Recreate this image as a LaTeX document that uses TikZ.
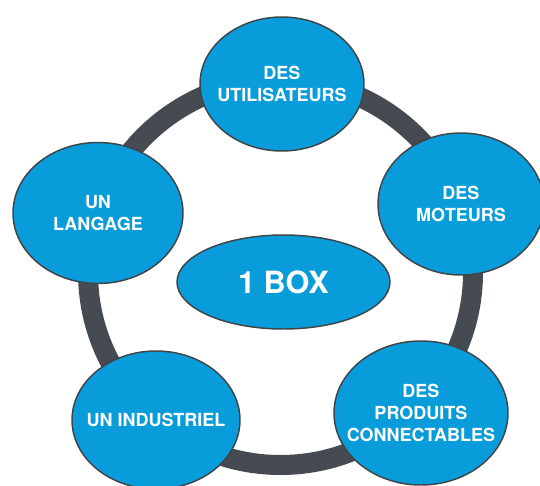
\documentclass[tikz,border=0pt]{standalone}
\usepackage{fontspec}
\setmainfont{TeX Gyre Heros}
\usetikzlibrary{shapes.geometric}
\definecolor{bubbleblue}{RGB}{8,157,218}
\definecolor{ringgrey}{RGB}{69,75,80}
\definecolor{rimgrey}{RGB}{62,68,72}
\tikzset{
  bubble/.style={ellipse, draw=rimgrey, line width=1.1pt, fill=bubbleblue, text=white,
    font=\bfseries\fontsize{13.5}{16.5}\selectfont, align=center,
    inner xsep=-14pt, inner ysep=0pt},
}

\begin{document}
\begin{tikzpicture}[x=0.75pt,y=0.75pt,yscale=-1,xscale=1]
\useasboundingbox (0,0) rectangle (540,486);

%Shape: Circle [ring behind the bubbles]
\draw [color=ringgrey, line width=15pt] (280.5,272.5) circle [radius=192.5];

%Shape: Ellipse [top]
\node [bubble, minimum width=123pt, minimum height=100.5pt] (users) at (282,84) {DES\\UTILISATEURS};
%Shape: Ellipse [right]
\node [bubble, minimum width=124.5pt, minimum height=106.5pt] (motors) at (461,204) {DES\\MOTEURS};
%Shape: Ellipse [bottom right]
\node [bubble, minimum width=130.5pt, minimum height=108pt] (products) at (421,413) {DES\\PRODUITS\\CONNECTABLES};
%Shape: Ellipse [bottom left]
\node [bubble, minimum width=126pt, minimum height=103.5pt] (maker) at (156,420) {UN INDUSTRIEL};
%Shape: Ellipse [left]
\node [bubble, minimum width=127.5pt, minimum height=105.75pt] (language) at (98,213) {UN\\LANGAGE};

%Shape: Ellipse [centre]
\node [bubble, minimum width=159.75pt, minimum height=70.5pt, font=\bfseries\fontsize{23}{27}\selectfont] (box) at (283.5,282) {1 BOX};
\end{tikzpicture}
\end{document}
